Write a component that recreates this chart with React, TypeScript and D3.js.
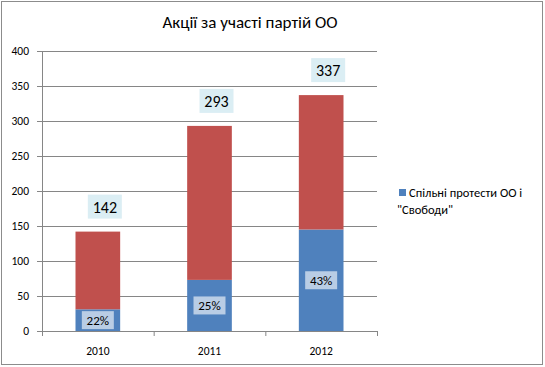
import { useEffect, useRef } from "react";
import * as d3 from "d3";

const years = ["2010", "2011", "2012"];
const jointProtests = [31, 73, 145];
const otherActions = [111, 220, 192];
const totals = [142, 293, 337];
const shares = ["22%", "25%", "43%"];
const yTicks = [0, 50, 100, 150, 200, 250, 300, 350, 400];

const W = 545;
const H = 367;
const FONT = "Calibri, Carlito, 'Liberation Sans', sans-serif";

export default function App() {
  const ref = useRef<SVGSVGElement>(null);

  useEffect(() => {
    const svg = d3.select(ref.current);
    svg.selectAll("*").remove();

    const m = { left: 42, right: 168, top: 51, bottom: 36 };
    const x = d3
      .scaleBand()
      .domain(years)
      .range([m.left, W - m.right])
      .paddingInner(0.6)
      .paddingOuter(0.3);
    const y = d3.scaleLinear().domain([0, 400]).range([H - m.bottom, m.top]);
    const step = x.step();
    const x0 = m.left;
    const x1 = W - m.right;

    svg
      .append("rect")
      .attr("x", 1.5)
      .attr("y", 1.5)
      .attr("width", W - 4)
      .attr("height", H - 4)
      .attr("fill", "#fff")
      .attr("stroke", "#8c8c8c");

    svg
      .append("text")
      .attr("x", 250)
      .attr("y", 28)
      .attr("text-anchor", "middle")
      .attr("font-family", FONT)
      .attr("font-size", 17)
      .attr("fill", "#000")
      .text("Акції за участі партій ОО");

    // gridlines
    svg
      .append("g")
      .selectAll("line")
      .data(yTicks.filter((d) => d > 0))
      .join("line")
      .attr("x1", x0)
      .attr("x2", x1)
      .attr("y1", (d) => y(d) + 0.5)
      .attr("y2", (d) => y(d) + 0.5)
      .attr("stroke", "#868686");

    // y axis
    const ya = svg.append("g");
    ya.append("line")
      .attr("x1", x0 + 0.5)
      .attr("x2", x0 + 0.5)
      .attr("y1", y(400))
      .attr("y2", y(0))
      .attr("stroke", "#868686");
    ya.selectAll("line.t")
      .data(yTicks)
      .join("line")
      .attr("class", "t")
      .attr("x1", x0 - 5)
      .attr("x2", x0)
      .attr("y1", (d) => y(d) + 0.5)
      .attr("y2", (d) => y(d) + 0.5)
      .attr("stroke", "#868686");
    ya.selectAll("text")
      .data(yTicks)
      .join("text")
      .attr("x", x0 - 13)
      .attr("y", (d) => y(d) + 4)
      .attr("text-anchor", "end")
      .attr("font-family", FONT)
      .attr("font-size", 11.5)
      .text((d) => d);

    // bars
    const stackData = years.map((yr, i) => ({
      year: yr,
      joint: jointProtests[i],
      other: otherActions[i],
    }));
    const series = d3.stack<any>().keys(["joint", "other"])(stackData);
    const colors = ["#4f81bd", "#c0504d"];
    svg
      .append("g")
      .selectAll("g")
      .data(series)
      .join("g")
      .attr("fill", (_, i) => colors[i])
      .selectAll("rect")
      .data((s) => s)
      .join("rect")
      .attr("x", (d) => x(d.data.year)!)
      .attr("width", x.bandwidth())
      .attr("y", (d) => y(d[1]))
      .attr("height", (d) => y(d[0]) - y(d[1]));

    // x axis
    const xa = svg.append("g");
    xa.append("line")
      .attr("x1", x0)
      .attr("x2", x1)
      .attr("y1", y(0) + 0.5)
      .attr("y2", y(0) + 0.5)
      .attr("stroke", "#868686");
    xa.selectAll("line.t")
      .data(d3.range(years.length + 1))
      .join("line")
      .attr("class", "t")
      .attr("x1", (i) => x0 + i * step + 0.5)
      .attr("x2", (i) => x0 + i * step + 0.5)
      .attr("y1", y(0))
      .attr("y2", y(0) + 5)
      .attr("stroke", "#868686");
    xa.selectAll("text")
      .data(years)
      .join("text")
      .attr("x", (d) => x(d)! + x.bandwidth() / 2)
      .attr("y", y(0) + 24)
      .attr("text-anchor", "middle")
      .attr("font-family", FONT)
      .attr("font-size", 11.5)
      .text((d) => d);

    // share labels
    const sl = svg
      .append("g")
      .selectAll("g")
      .data(years)
      .join("g")
      .attr(
        "transform",
        (d, i) =>
          `translate(${x(d)! + x.bandwidth() / 2},${(y(0) + y(jointProtests[i])) / 2})`
      );
    sl.append("rect")
      .attr("x", -16)
      .attr("y", -9)
      .attr("width", 32)
      .attr("height", 18)
      .attr("fill", "#b9cde5");
    sl.append("text")
      .attr("text-anchor", "middle")
      .attr("y", 5)
      .attr("font-family", FONT)
      .attr("font-size", 13)
      .text((_, i) => shares[i]);

    // total labels
    const tl = svg
      .append("g")
      .selectAll("g")
      .data(years)
      .join("g")
      .attr(
        "transform",
        (d, i) =>
          `translate(${x(d)! + x.bandwidth() / 2 + 7},${Math.max(y(totals[i]) - 25, y(400) + 10)})`
      );
    tl.append("rect")
      .attr("x", -17)
      .attr("y", -12)
      .attr("width", 34)
      .attr("height", 24)
      .attr("fill", "#dbeef4");
    tl.append("text")
      .attr("text-anchor", "middle")
      .attr("y", 6)
      .attr("font-family", FONT)
      .attr("font-size", 16)
      .text((_, i) => totals[i]);

    // legend
    const lg = svg.append("g");
    lg.append("rect")
      .attr("x", 399)
      .attr("y", 189)
      .attr("width", 7)
      .attr("height", 7)
      .attr("fill", colors[0]);
    const lt = lg
      .append("text")
      .attr("font-family", FONT)
      .attr("font-size", 12.5);
    lt.append("tspan").attr("x", 409).attr("y", 197).text("Спільні протести ОО і");
    lt.append("tspan").attr("x", 397).attr("y", 214).text("\"Свободи\"");
  }, []);

  return (
    <svg
      ref={ref}
      width={W}
      height={H}
      style={{ display: "block", position: "absolute", left: 0, top: 0 }}
    />
  );
}
